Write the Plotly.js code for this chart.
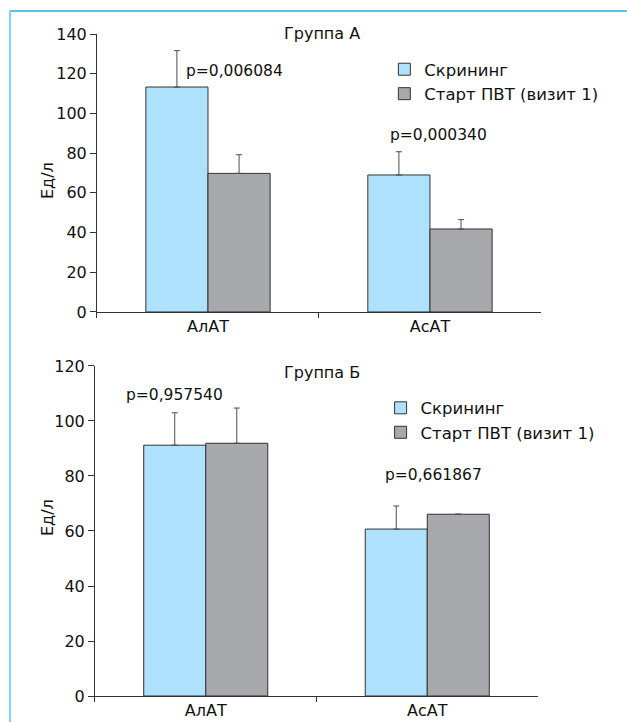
<!DOCTYPE html>
<html>
<head>
<meta charset="utf-8">
<script src="https://cdn.plot.ly/plotly-3.0.1.min.js"></script>
<style>html,body{margin:0;padding:0;background:#fff}#chart{width:627px;height:722px}</style>
</head>
<body>
<div id="chart"></div>
<script>
const categories = ["АлАТ", "АсАТ"];
const seriesNames = ["Скрининг", "Старт ПВТ (визит 1)"];
// Group A
const groupA_screen = [113.3, 69.0];
const groupA_screen_err = [18.3, 11.7];
const groupA_start = [69.8, 41.8];
const groupA_start_err = [9.4, 4.7];
const groupA_p = ["p=0,006084", "p=0,000340"];
// Group B
const groupB_screen = [91.2, 60.7];
const groupB_screen_err = [11.8, 8.4];
const groupB_start = [91.9, 66.1];
const groupB_start_err = [12.8, null];
const groupB_p = ["p=0,957540", "p=0,661867"];
const titles = ["Группа А", "Группа Б"];
const yTitle = "Ед/л";

const FONT = "DejaVu Sans, Verdana, sans-serif";
const BLUE = "#aee1fb", GRAY = "#a7a9ac", EDGE = "#333333", ERR = "#4d4d4d";

function bar(name, y, err, color, xa, ya, legend, show) {
  return {
    type: "bar", name: name, x: categories, y: y, xaxis: xa, yaxis: ya,
    legend: legend, showlegend: show,
    marker: {color: color, line: {color: EDGE, width: 1}},
    error_y: {type: "data", symmetric: false, array: err, arrayminus: err.map(v => v === null ? null : 0),
              color: ERR, thickness: 1, width: 3},
    hoverinfo: "skip"
  };
}

const data = [
  bar(seriesNames[0], groupA_screen, groupA_screen_err, BLUE, "x", "y", "legend", true),
  bar(seriesNames[1], groupA_start, groupA_start_err, GRAY, "x", "y", "legend", true),
  bar(seriesNames[0], groupB_screen, groupB_screen_err, BLUE, "x2", "y2", "legend2", true),
  bar(seriesNames[1], groupB_start, groupB_start_err, GRAY, "x2", "y2", "legend2", true)
];

const axisX = (dom) => ({
  domain: dom, type: "category", range: [-0.5, 1.5], showline: true, linecolor: EDGE, linewidth: 1,
  ticks: "outside", tickson: "boundaries", ticklen: 5, tickcolor: EDGE,
  tickfont: {family: FONT, size: 16, color: "#111"}, showgrid: false, zeroline: false, fixedrange: true
});
const axisY = (dom, range, dtick) => ({
  domain: dom, range: range, dtick: dtick, showline: true, linecolor: EDGE, linewidth: 1,
  ticks: "outside", ticklen: 6, tickcolor: EDGE, showgrid: false, zeroline: false,
  tickfont: {family: FONT, size: 16, color: "#111"}, fixedrange: true
});

const annFont = {family: FONT, size: 15.5, color: "#111"};
const ann = (o) => Object.assign({showarrow: false, xanchor: "center", yanchor: "middle"}, o);
const layout = {
  width: 627, height: 722,
  margin: {l: 0, r: 0, t: 0, b: 0, autoexpand: false},
  paper_bgcolor: "#fff", plot_bgcolor: "#fff",
  barmode: "group", bargap: 0.44, bargroupgap: 0,
  xaxis: axisX([0.1547, 0.8628]),
  yaxis: Object.assign(axisY([0.5679, 0.9529], [0, 140], 20), {anchor: "x"}),
  xaxis2: Object.assign(axisX([0.1515, 0.8581]), {anchor: "y2"}),
  yaxis2: Object.assign(axisY([0.0360, 0.4931], [0, 120], 20), {anchor: "x2"}),
  legend: {x: 0.613, y: 0.928, xanchor: "left", yanchor: "top", font: {family: FONT, size: 16.5, color: "#111"},
           bgcolor: "rgba(0,0,0,0)", tracegroupgap: 0},
  legend2: {x: 0.607, y: 0.459, xanchor: "left", yanchor: "top", font: {family: FONT, size: 16.5, color: "#111"},
            bgcolor: "rgba(0,0,0,0)", tracegroupgap: 0},
  annotations: [
    ann({text: titles[0], xref: "paper", yref: "paper", x: 0.514, y: 1 - 33/722, font: {family: FONT, size: 16, color: "#111"}}),
    ann({text: titles[1], xref: "paper", yref: "paper", x: 0.514, y: 1 - 372/722, font: {family: FONT, size: 16, color: "#111"}}),
    ann({text: yTitle, xref: "paper", yref: "paper", x: 47/627, y: 1 - 180/722, textangle: -90, font: {family: FONT, size: 16, color: "#111"}}),
    ann({text: yTitle, xref: "paper", yref: "paper", x: 47/627, y: 1 - 517/722, textangle: -90, font: {family: FONT, size: 16, color: "#111"}}),
    ann({text: groupA_p[0], xref: "x", yref: "y", x: 0.12, y: 121.3, font: annFont}),
    ann({text: groupA_p[1], xref: "x", yref: "y", x: 1.04, y: 89.1, font: annFont}),
    ann({text: groupB_p[0], xref: "x2", yref: "y2", x: -0.14, y: 109.5, font: annFont}),
    ann({text: groupB_p[1], xref: "x2", yref: "y2", x: 1.03, y: 80.4, font: annFont})
  ],
  shapes: [
    {type: "line", xref: "paper", yref: "paper", x0: 10/627, x1: 1, y0: 1 - 11/722, y1: 1 - 11/722, line: {color: "#29abe2", width: 1.5}},
    {type: "line", xref: "paper", yref: "paper", x0: 10/627, x1: 10/627, y0: 0, y1: 1 - 11/722, line: {color: "#7fd3f7", width: 2}}
  ]
};

Plotly.newPlot("chart", data, layout, {displayModeBar: false, staticPlot: true});
</script>
</body>
</html>
